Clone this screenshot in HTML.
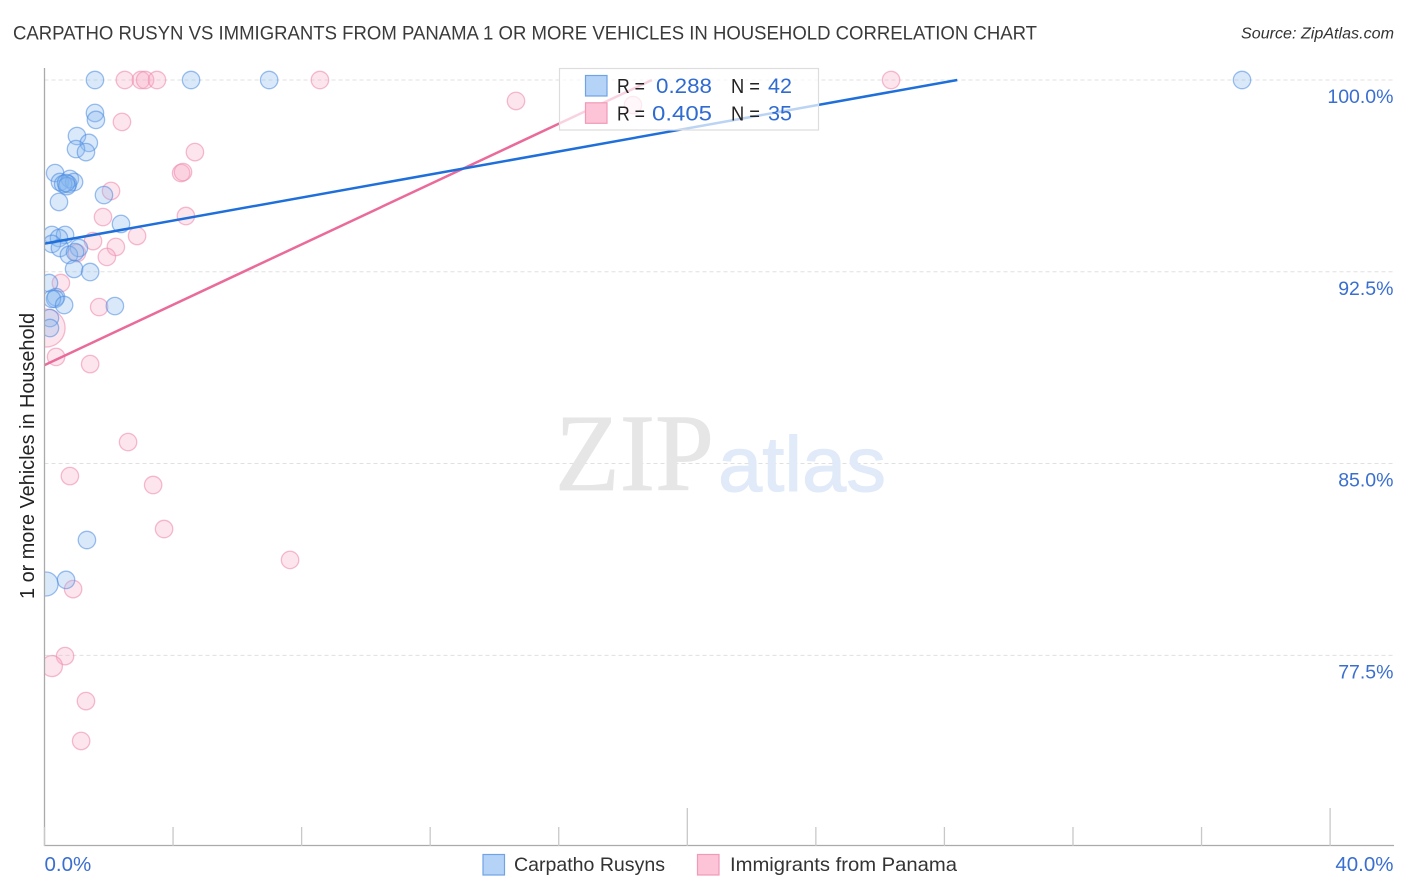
<!DOCTYPE html>
<html lang="en">
<head>
<meta charset="utf-8">
<title>Carpatho Rusyn vs Immigrants from Panama correlation chart</title>
<style>
html,body{margin:0;padding:0;background:#fff;width:1406px;height:892px;overflow:hidden}
svg{display:block;font-family:"Liberation Sans",Arial,sans-serif}
</style>
</head>
<body>
<svg id="chart" width="1406" height="892" viewBox="0 0 1406 892" xmlns="http://www.w3.org/2000/svg">
  <rect width="1406" height="892" fill="#fff"/>
  <text x="13" y="39.500" font-size="19.500" fill="#3a3a3a" textLength="1024" lengthAdjust="spacingAndGlyphs">CARPATHO RUSYN VS IMMIGRANTS FROM PANAMA 1 OR MORE VEHICLES IN HOUSEHOLD CORRELATION CHART</text>
  <text x="1394" y="38.500" font-size="15.500" font-style="italic" fill="#333" text-anchor="end" textLength="153" lengthAdjust="spacingAndGlyphs">Source: ZipAtlas.com</text>

  <g id="grid"></g>

  <text x="555" y="490" font-family="'Liberation Serif',serif" font-size="110" fill="#e6e6e6" stroke="#e6e6e6" stroke-width="0.800" textLength="159" lengthAdjust="spacingAndGlyphs">ZIP</text>
  <text x="718" y="491" font-size="78" fill="#e0eaf8" stroke="#e0eaf8" stroke-width="1" textLength="168" lengthAdjust="spacingAndGlyphs">atlas</text>

  <defs>
    <clipPath id="plot-clip"><rect x="44.500" y="60" width="1350" height="786"/></clipPath>
  </defs>
  <g id="pink-points" clip-path="url(#plot-clip)"></g>
  <g id="blue-points" clip-path="url(#plot-clip)"></g>
  <g id="trends"></g>

  <g id="axes">
    <line x1="44.500" y1="68" x2="44.500" y2="846" stroke="#aaa" stroke-width="1.300"/>
    <line x1="44" y1="845.500" x2="1394" y2="845.500" stroke="#aaa" stroke-width="1.300"/>
  </g>
  <g id="x-ticks"></g>
  <g id="y-labels"></g>
  <g id="x-labels"></g>

  <text transform="translate(34 599) rotate(-90)" font-size="20" fill="#222" textLength="286" lengthAdjust="spacingAndGlyphs">1 or more Vehicles in Household</text>

  <g>
    <rect x="559.500" y="68.500" width="259" height="61.500" fill="#fff" fill-opacity="0.7" stroke="#ddd" stroke-width="1.200"/>
    <rect x="585.500" y="75.500" width="21.500" height="20.500" fill="#b5d2f7" stroke="#6fa3e4" stroke-width="1.200"/>
    <rect x="585.500" y="102.800" width="21.500" height="20.500" fill="#fcc4d6" stroke="#f09ab8" stroke-width="1.200"/>
    <text x="617" y="93" font-size="20" fill="#222" textLength="28" lengthAdjust="spacingAndGlyphs">R =</text>
    <text x="656" y="93" font-size="21.500" fill="#2f6bd0" textLength="56" lengthAdjust="spacingAndGlyphs">0.288</text>
    <text x="731" y="93" font-size="20" fill="#222" textLength="29" lengthAdjust="spacingAndGlyphs">N =</text>
    <text x="768" y="93" font-size="21.500" fill="#2f6bd0" textLength="24" lengthAdjust="spacingAndGlyphs">42</text>
    <text x="617" y="120.500" font-size="20" fill="#222" textLength="28" lengthAdjust="spacingAndGlyphs">R =</text>
    <text x="652" y="120.500" font-size="21.500" fill="#2f6bd0" textLength="60" lengthAdjust="spacingAndGlyphs">0.405</text>
    <text x="731" y="120.500" font-size="20" fill="#222" textLength="29" lengthAdjust="spacingAndGlyphs">N =</text>
    <text x="768" y="120.500" font-size="21.500" fill="#2f6bd0" textLength="24" lengthAdjust="spacingAndGlyphs">35</text>
  </g>

  <g>
    <rect x="483" y="854.500" width="21.500" height="20.500" fill="#b5d2f7" stroke="#6fa3e4" stroke-width="1.200"/>
    <text x="514" y="871" font-size="19.500" fill="#333" textLength="151" lengthAdjust="spacingAndGlyphs">Carpatho Rusyns</text>
    <rect x="697.500" y="854.500" width="21.500" height="20.500" fill="#fcc4d6" stroke="#f09ab8" stroke-width="1.200"/>
    <text x="730" y="871" font-size="19.500" fill="#333" textLength="227" lengthAdjust="spacingAndGlyphs">Immigrants from Panama</text>
  </g>
</svg>
<script>
// ---- data ----
const xTickValues = [0, 4, 8, 12, 16, 20, 24, 28, 32, 36, 40];
const xMajorTicks = [20, 40];
const xTickLabels = ["0.0%", "40.0%"];
const yTickValues = [100, 92.5, 85, 77.5];
const yTickLabels = ["100.0%", "92.5%", "85.0%", "77.5%"];

const blueX = [1.57, 4.56, 6.99, 37.26, 1.57, 1.60, 1.01, 1.38, 0.98, 1.29, 0.33, 0.48, 0.79, 0.92, 0.73, 0.58, 0.70, 0.67, 0.45, 1.85, 2.38, 0.23, 0.64, 0.45, 0.23, 0.48, 1.07, 0.76, 0.95, 0.92, 1.42, 0.14, 0.36, 0.33, 0.23, 0.61, 2.19, 0.17, 0.17, 1.32, 0.67, 0.05];
const blueY = [100, 100, 100, 100, 98.71, 98.44, 97.81, 97.54, 97.30, 97.18, 96.36, 96.01, 96.13, 96.01, 95.93, 95.93, 95.85, 95.97, 95.23, 95.50, 94.37, 93.94, 93.94, 93.82, 93.59, 93.43, 93.43, 93.16, 93.27, 92.61, 92.49, 92.06, 91.51, 91.44, 91.44, 91.20, 91.16, 90.69, 90.30, 82.01, 80.45, 80.29];
const blueWeight = [1, 1, 1, 1, 1, 1, 1, 1, 1, 1, 1, 1, 1, 1, 1, 1, 1, 1, 1, 1, 1, 1, 1, 1, 1, 1, 1, 1, 1, 1, 1, 1, 1, 1, 1, 1, 1, 1, 1, 1, 1, 1.9];

const pinkX = [2.50, 3.00, 3.13, 3.50, 8.57, 26.34, 14.67, 2.41, 18.31, 4.68, 4.25, 4.31, 2.07, 1.82, 4.40, 2.88, 1.51, 2.22, 1.94, 1.01, 0.51, 1.70, 0.05, 0.36, 1.42, 2.60, 0.79, 3.38, 3.72, 7.64, 0.89, 0.64, 0.23, 1.29, 1.14];
const pinkY = [100, 100, 100, 100, 100, 100, 99.18, 98.36, 99.02, 97.18, 96.36, 96.40, 95.66, 94.64, 94.68, 93.90, 93.70, 93.47, 93.08, 93.23, 92.06, 91.12, 90.30, 89.17, 88.89, 85.84, 84.51, 84.16, 82.44, 81.23, 80.09, 77.47, 77.08, 75.71, 74.15];
const pinkWeight = [1, 1, 1, 1, 1, 1, 1, 1, 1, 1, 1, 1, 1, 1, 1, 1, 1, 1, 1, 1, 1, 1, 4.77, 1, 1, 1, 1, 1, 1, 1, 1, 1, 1.46, 1, 1];

const blueTrendX = [0, 28.4];
const blueTrendY = [93.6, 100];
const pinkTrendX = [0, 18.9];
const pinkTrendY = [88.85, 100];

// ---- axis functions ----
const NS = "http://www.w3.org/2000/svg";
function xScale(v) { return 44.5 + v * 32.14; }
function yScale(v) { return 80 + (100 - v) * 25.57; }
function rScale(w) { return 8.7 * Math.sqrt(w); }
function make(tag, parent, attrs) {
  const el = document.createElementNS(NS, tag);
  for (const k in attrs) el.setAttribute(k, attrs[k]);
  parent.appendChild(el);
  return el;
}

// ---- gridlines and y labels ----
const grid = document.getElementById("grid");
const yLabelGroup = document.getElementById("y-labels");
yTickValues.forEach(function (v, i) {
  const line = make("line", grid, { x1: 44.5, x2: 1394, y1: yScale(v), y2: yScale(v), stroke: "#e0e0e0", "stroke-width": 1, "stroke-dasharray": "4 3" });
  
  
  const label = make("text", yLabelGroup, { x: 1393.5, y: yScale(v) + 23, "font-size": 19.5, fill: "#3a6fd0", "text-anchor": "end" });
  label.textContent = yTickLabels[i];
  
  
});

// ---- x ticks and labels ----
const xTickGroup = document.getElementById("x-ticks");
xTickValues.forEach(function (v) {
  const top = xMajorTicks.indexOf(v) >= 0 ? 808 : 827;
  const tick = make("line", xTickGroup, { x1: xScale(v), x2: xScale(v), y1: top, y2: 846, stroke: "#c8c8c8", "stroke-width": 1.3 });
  
  
});
const xLabelGroup = document.getElementById("x-labels");
const labelFirst = make("text", xLabelGroup, { x: xScale(0), y: 871, "font-size": 20.5, fill: "#3a6fd0" });
labelFirst.textContent = xTickLabels[0];


const labelLast = make("text", xLabelGroup, { x: 1393.5, y: 871, "font-size": 20.5, fill: "#3a6fd0", "text-anchor": "end" });
labelLast.textContent = xTickLabels[1];



// ---- points ----
const pinkGroup = document.getElementById("pink-points");
pinkX.forEach(function (v, i) {
  const c = make("circle", pinkGroup, { cx: xScale(v), cy: yScale(pinkY[i]), r: rScale(pinkWeight[i]), fill: "#f7a9c3", "fill-opacity": 0.3, stroke: "#ee8db0", "stroke-opacity": 0.6, "stroke-width": 1.3 });
  
  
});
const blueGroup = document.getElementById("blue-points");
blueX.forEach(function (v, i) {
  const c = make("circle", blueGroup, { cx: xScale(v), cy: yScale(blueY[i]), r: rScale(blueWeight[i]), fill: "#85b5f0", "fill-opacity": 0.3, stroke: "#4a8ae0", "stroke-opacity": 0.55, "stroke-width": 1.3 });
  
  
});

// ---- trend lines ----
const trends = document.getElementById("trends");
const pinkLine = make("line", trends, { x1: xScale(pinkTrendX[0]), y1: yScale(pinkTrendY[0]), x2: xScale(pinkTrendX[1]), y2: yScale(pinkTrendY[1]), stroke: "#ea6a9a", "stroke-width": 2.5 });


const blueLine = make("line", trends, { x1: xScale(blueTrendX[0]), y1: yScale(blueTrendY[0]), x2: xScale(blueTrendX[1]), y2: yScale(blueTrendY[1]), stroke: "#1f6fdb", "stroke-width": 2.5 });


</script>
</body>
</html>
